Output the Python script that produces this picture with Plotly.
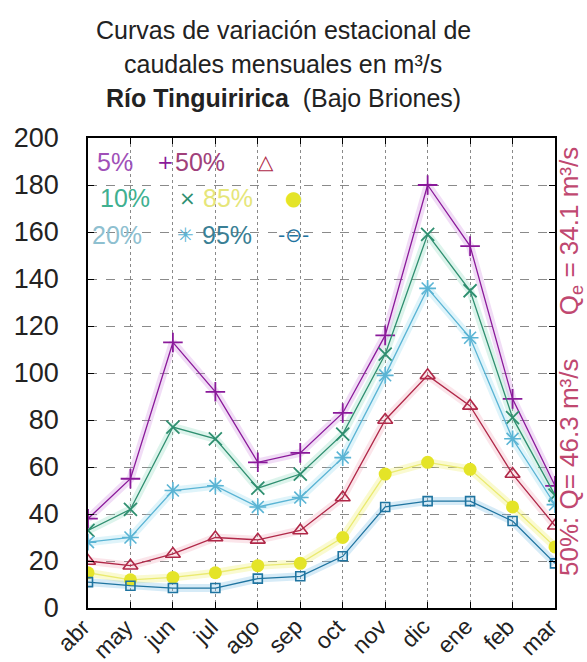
import plotly.graph_objects as go

months = ["abr", "may", "jun", "jul", "ago", "sep", "oct", "nov", "dic", "ene", "feb", "mar"]
q5 = [38, 55, 113, 92, 62, 66, 83, 116, 180, 154, 89, 52]
q10 = [33, 42, 77, 72, 51, 57, 74, 108, 159, 135, 81, 48]
q20 = [28, 30, 50, 52, 43, 47, 64, 99, 136, 115, 72, 44]
q50 = [20, 18, 23, 30, 29, 33, 47, 80, 99, 86, 57, 35]
q85 = [15, 12, 13, 15, 18, 19, 30, 57, 62, 59, 43, 26]
q95 = [11, 9.5, 8.5, 8.5, 12.5, 13.5, 22, 43, 45.5, 45.5, 37, 19]

series = [
    ("5%", q5, "#8a1a9a", "rgba(200,120,220,0.25)", "cross-thin-open", 14, 1.8),
    ("10%", q10, "#2f8f70", "rgba(120,210,180,0.25)", "x-thin-open", 13, 1.8),
    ("20%", q20, "#5ab4d4", "rgba(150,220,240,0.30)", "asterisk-open", 14, 1.6),
    ("50%", q50, "#b02848", "rgba(240,150,170,0.25)", "triangle-up-open", 13, 1.6),
    ("85%", q85, "#e4e428", "rgba(240,240,120,0.35)", "circle", 13, 0),
    ("95%", q95, "#1f74a0", "rgba(120,190,230,0.30)", "square-open", 9, 1.6),
]

x = list(range(len(months)))
fig = go.Figure()
for name, vals, col, halo, sym, size, lw in series:
    fig.add_trace(go.Scatter(x=x, y=vals, mode="lines", line=dict(color=halo, width=8),
                             hoverinfo="skip", showlegend=False))
for name, vals, col, halo, sym, size, lw in series:
    linecol = "#eaea70" if name == "85%" else col
    fig.add_trace(go.Scatter(
        x=x, y=vals, mode="lines+markers", name=name,
        line=dict(color=linecol, width=1.3),
        marker=dict(symbol=sym, size=size, color=col, line=dict(color=col, width=lw)),
        showlegend=False))

FONT = "Liberation Sans, Arial, sans-serif"
L, R, T, B = 88, 555, 138, 608
W = R - L
H = B - T

def px(xp):
    return (xp - L) / W

def py(yp):
    return (B - yp) / H

ann = []
# title
for txt, yp in [("Curvas de variación estacional de", 30),
                ("caudales mensuales en m³/s", 64),
                ("<b>Río Tinguiririca</b>  (Bajo Briones)", 98)]:
    ann.append(dict(text=txt, x=px(283), y=py(yp), xref="paper", yref="paper",
                    xanchor="center", yanchor="middle", showarrow=False,
                    font=dict(family=FONT, size=25, color="#222")))

# key (legend) as text
key = [
    ("5%", 95, 162, "#a050b8", "+", 165, "#8a1a9a"),
    ("50%", 173, 162, "#a0407a", "△", 266, "#b02848"),
    ("10%", 98, 198, "#40b090", "×", 187, "#2f8f70"),
    ("85%", 201, 198, "#e6e67a", "●", 293, "#e4e428"),
    ("20%", 90, 235, "#8ec0d0", "✳", 185, "#5ab4d4"),
    ("95%", 200, 235, "#3a7f95", "-⊖-", 293, "#1f74a0"),
]
for txt, xt, yt, tcol, sym, xs, scol in key:
    ann.append(dict(text=txt, x=px(xt), y=py(yt), xref="paper", yref="paper",
                    xanchor="left", yanchor="middle", showarrow=False,
                    font=dict(family=FONT, size=25, color=tcol)))
    ann.append(dict(text=sym, x=px(xs), y=py(yt), xref="paper", yref="paper",
                    xanchor="center", yanchor="middle", showarrow=False,
                    font=dict(family="DejaVu Sans, sans-serif", size=20, color=scol)))

# x tick labels (rotated), anchored to the x axis positions
for i, m in zip(x, months):
    ann.append(dict(text=m, x=i, xref="x", y=py(611), yref="paper",
                    xanchor="right", yanchor="top", showarrow=False, textangle=-45,
                    xshift=10, font=dict(family=FONT, size=23, color="#222")))

# right side rotated note
gap = "\u00a0" * 6
ann.append(dict(text="50%: Q= 46.3 m³/s" + gap + "Q<sub>e</sub> = 34.1 m³/s",
                x=px(570), y=py(362), xref="paper", yref="paper",
                xanchor="center", yanchor="middle", showarrow=False, textangle=-90,
                font=dict(family=FONT, size=26, color="#c04870")))

fig.update_layout(
    width=587, height=662,
    margin=dict(l=L, r=587 - R, t=T, b=662 - B),
    paper_bgcolor="white", plot_bgcolor="white",
    font=dict(family=FONT, size=22, color="#222"),
    annotations=ann,
)
fig.update_xaxes(range=[0, 11], tickvals=x, ticktext=months, showticklabels=False,
                 showgrid=True, gridcolor="#8a8a8a", griddash="dot", gridwidth=1,
                 showline=True, linecolor="black", linewidth=1.5, mirror="ticks",
                 ticks="inside", ticklen=6, tickcolor="black", zeroline=False,
                 automargin=False)
fig.update_yaxes(range=[0, 200], dtick=20, tick0=0,
                 showgrid=True, gridcolor="#8a8a8a", griddash="dash", gridwidth=1,
                 showline=True, linecolor="black", linewidth=1.5, mirror="ticks",
                 ticks="inside", ticklen=6, tickcolor="black", zeroline=False,
                 automargin=False, ticklabelstandoff=22,
                 tickfont=dict(family=FONT, size=27, color="#222"))

fig.write_html("out.html", config={"displayModeBar": False},
               post_script="document.body.style.margin='0';")
